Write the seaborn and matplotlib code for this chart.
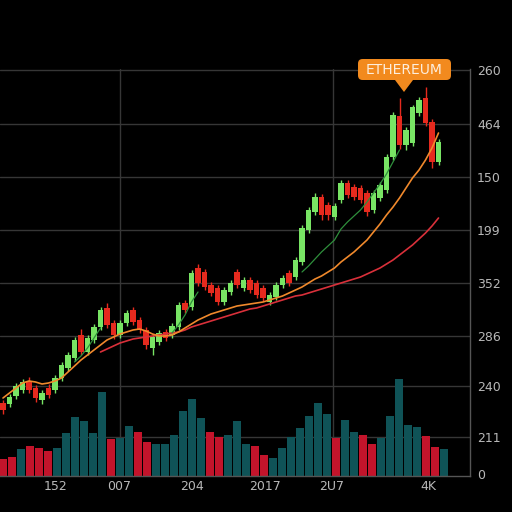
import numpy as np
import pandas as pd
import matplotlib.pyplot as plt
import seaborn as sns
from matplotlib.patches import FancyBboxPatch, Polygon

# candle data (chart units, 0 = volume baseline)
opens = [73, 72, 80, 86, 95, 88, 76, 88, 86, 98, 108, 118, 141, 124, 136, 149, 168, 153, 141, 153,
         166, 156, 146, 128, 134, 144, 141, 149, 173, 169, 208, 204, 191, 188, 174, 184, 204, 188, 196, 193,
         188, 174, 179, 191, 203, 199, 214, 246, 264, 279, 271, 259, 276, 293, 289, 288, 283, 266, 278, 286,
         319, 360, 331, 333, 363, 378, 354, 314]
closes = [66, 79, 90, 94, 86, 78, 83, 81, 98, 111, 121, 136, 124, 138, 149, 166, 151, 141, 153, 163,
          154, 146, 131, 139, 143, 138, 150, 171, 166, 203, 193, 189, 183, 174, 186, 193, 191, 196, 186, 181,
          178, 181, 191, 198, 193, 216, 248, 266, 279, 261, 261, 270, 293, 281, 279, 276, 264, 283, 291, 319,
          361, 331, 346, 369, 376, 353, 314, 334]
highs = [76, 82, 93, 97, 99, 91, 86, 92, 101, 114, 124, 139, 147, 141, 152, 169, 173, 156, 156, 166,
         169, 159, 149, 142, 146, 147, 153, 174, 176, 206, 212, 207, 194, 191, 189, 196, 207, 199, 199, 196,
         191, 184, 194, 201, 206, 219, 251, 269, 283, 282, 274, 273, 296, 296, 292, 291, 286, 286, 294, 322,
         364, 378, 349, 371, 379, 389, 357, 337]
lows = [62, 69, 77, 83, 83, 74, 72, 78, 83, 95, 105, 115, 121, 121, 133, 146, 148, 137, 138, 150,
        151, 143, 127, 121, 131, 135, 138, 146, 163, 166, 190, 186, 180, 171, 171, 181, 188, 185, 183, 178,
        175, 171, 176, 188, 190, 196, 211, 243, 261, 256, 256, 256, 273, 278, 276, 273, 260, 263, 275, 283,
        316, 327, 326, 330, 360, 350, 308, 311]

ma_orange = [78, 83, 88, 93, 95, 94, 92, 93, 95, 98, 104, 110, 116, 121, 126, 131, 136, 139, 142, 144,
             146, 147, 145, 142, 140, 140, 141, 144, 148, 152, 156, 159, 162, 164, 166, 168, 170, 171, 172, 173,
             174, 176, 178, 180, 183, 186, 189, 193, 197, 200, 204, 208, 214, 219, 224, 230, 236, 244, 252, 261,
             269, 278, 288, 298, 306, 316, 328, 343]
ma_red = [np.nan] * 15 + [124, 127, 130, 133, 135, 137, 138, 139, 140, 141, 142, 143, 144, 146, 149,
                          151, 153, 155, 157, 159, 161, 163, 165, 167, 168, 170, 172, 174, 176, 178, 180,
                          181, 183, 185, 187, 189, 191, 193, 195, 197, 199, 202, 205, 208, 212, 216, 221,
                          226, 231, 237, 243, 250, 258]
ma_green = ([np.nan] * 11 + [114, 120, 128, 138, 148] + [np.nan] * 10 + [143, 151, 161, 174, 184]
            + [np.nan] * 15 + [204, 210, 217, 224, 230, 236, 247, 254, 260, 266, 274, 283, 292, 302, 314, 326]
            + [np.nan] * 6)

volume = [17, 19, 27, 30, 28, 25, 28, 43, 59, 55, 43, 84, 37, 38, 50, 44, 34, 32, 32, 41,
          65, 77, 58, 44, 39, 41, 55, 32, 30, 21, 18, 28, 39, 48, 60, 73, 62, 38, 56, 44,
          41, 32, 38, 60, 97, 51, 49, 40, 29, 27]
vol_dir = list("rrtrrrttttttrttrrttttttrrtttrrtttttttrttrrtttttrrt")

y_ticks = [406, 352, 299, 246, 193, 140, 90, 39, 2]
y_labels = ["260", "464", "150", "199", "352", "286", "240", "211", "0"]
x_tick_pos = [8.1, 17.9, 29.1, 40.3, 50.6, 65.5]
x_labels = ["152", "007", "204", "2017", "2U7", "4K"]

GREEN = "#78e464"
RED = "#e62a1e"
TEAL = "#0f5357"
VRED = "#c3142b"
GRID = "#363636"
TXT = "#b8b8b8"

sns.set_theme(style="dark")
plt.rcParams["font.family"] = ["DejaVu Sans"]

fig = plt.figure(figsize=(5.12, 5.12), dpi=100, facecolor="black")
rect = [0, 36 / 512, 470 / 512, 407 / 512]

# volume layer (bottom) with grid
ax_vol = fig.add_axes(rect)
ax_vol.set_facecolor("black")
for y in y_ticks[:-1]:
    ax_vol.axhline(y, color=GRID, lw=1, zorder=0)
for px in [120, 333]:
    ax_vol.plot([px / 470, px / 470], [0, 1], transform=ax_vol.transAxes, color=GRID, lw=1, zorder=0)
sns.barplot(x=list(range(len(volume))), y=volume, hue=vol_dir, palette={"t": TEAL, "r": VRED},
            dodge=False, width=0.78, saturation=1, legend=False, ax=ax_vol, zorder=2,
            edgecolor="none", linewidth=0)
ax_vol.set_xlim(-3 / 9, 467 / 9)
ax_vol.set_ylim(0, 407)
ax_vol.set_xticks([])
ax_vol.set_yticks([])
ax_vol.set_xlabel("")
ax_vol.set_ylabel("")
for s in ax_vol.spines.values():
    s.set_visible(False)

# candles layer
ax = fig.add_axes(rect)
ax.set_facecolor("none")
idx = np.arange(len(opens))
o = np.array(opens)
c = np.array(closes)
cols = [GREEN if cc >= oo else RED for oo, cc in zip(o, c)]
ax.vlines(idx, lows, highs, colors=cols, lw=1, zorder=3)
ax.bar(idx, np.abs(c - o), bottom=np.minimum(o, c), width=0.85, color=cols,
       edgecolor="none", linewidth=0, zorder=4)

sns.lineplot(x=idx, y=ma_red, ax=ax, color="#d9303a", lw=1.2, zorder=5)
sns.lineplot(x=idx, y=ma_orange, ax=ax, color="#f0892c", lw=1.2, zorder=5)
ax.plot(idx, ma_green, color="#2f8f3c", lw=0.9, zorder=5)

ax.set_xlim(-3 / 6.5, 467 / 6.5)
ax.set_ylim(0, 407)
ax.yaxis.tick_right()
ax.set_yticks(y_ticks)
ax.set_yticklabels(y_labels)
ax.set_xticks(x_tick_pos)
ax.set_xticklabels(x_labels)
ax.tick_params(colors=TXT, labelsize=9, length=0)
ax.tick_params(axis="y", pad=5)
ax.tick_params(axis="x", pad=3)
ax.grid(False)
for side in ["top", "left"]:
    ax.spines[side].set_visible(False)
for side in ["right", "bottom"]:
    ax.spines[side].set_color("#555555")
    ax.spines[side].set_linewidth(1)

# ETHEREUM label
fig.patches.append(FancyBboxPatch((358 / 512, (512 - 80) / 512), 93 / 512, 21 / 512,
                                  boxstyle="round,pad=0,rounding_size=0.009",
                                  transform=fig.transFigure, facecolor="#f28a1e", edgecolor="none"))
fig.patches.append(Polygon([(395 / 512, (512 - 80) / 512), (413 / 512, (512 - 80) / 512),
                            (404 / 512, (512 - 92) / 512)], closed=True,
                           transform=fig.transFigure, facecolor="#f28a1e", edgecolor="none"))
fig.text(404.5 / 512, (512 - 69.5) / 512, "ETHEREUM", color="#fdeedd", fontsize=10,
         ha="center", va="center")

fig.savefig("out.png", dpi=100, facecolor="black")
